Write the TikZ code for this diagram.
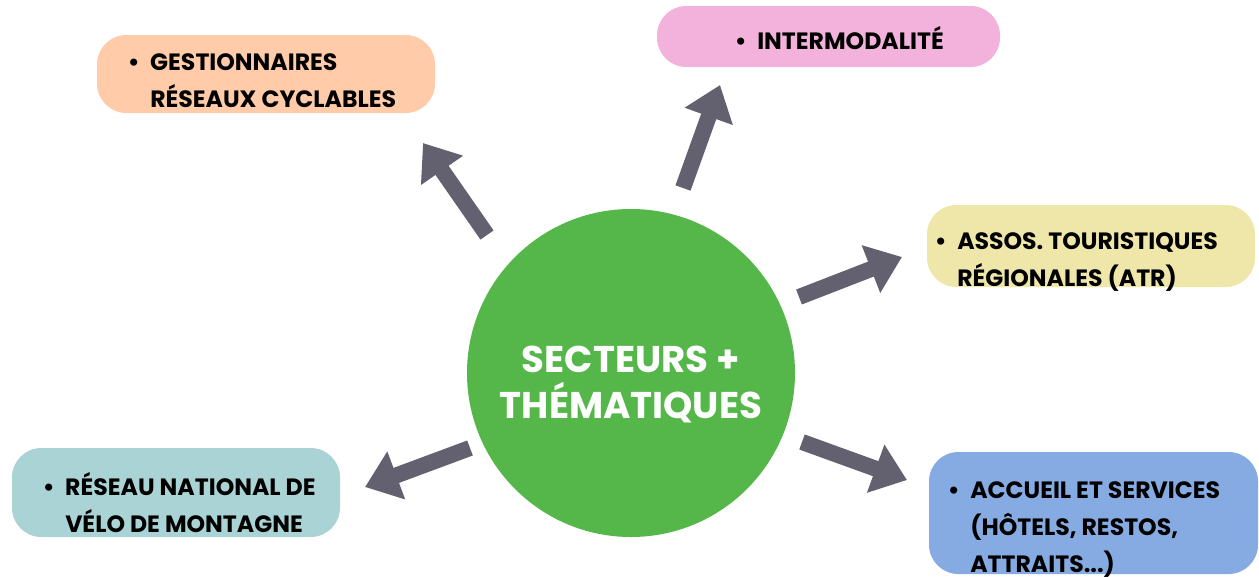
\documentclass[tikz,border=0pt]{standalone}
\usepackage{fontspec}
\setmainfont{Poppins}
\usepackage{tikz}
\usetikzlibrary{arrows.meta}
\usetikzlibrary{shapes}

\definecolor{hubgreen}{HTML}{55B74A}
\definecolor{arrowgray}{HTML}{63616F}
\definecolor{peach}{HTML}{FFCBA9}
\definecolor{pinkish}{HTML}{F3B2DC}
\definecolor{sand}{HTML}{EFE6AA}
\definecolor{teal}{HTML}{A9D3D5}
\definecolor{skyblue}{HTML}{86AAE2}
\newcommand{\itembul}{\llap{\textbullet\hspace{8pt}}}

\begin{document}
\begin{tikzpicture}[x=0.75pt,y=-0.75pt]
\tikzset{box/.style={rectangle, rounded corners=22pt, inner sep=0pt}}
\tikzset{entry/.style={anchor=base west, inner sep=0pt, align=left, font=\bfseries\fontsize{17.7}{27.5}\selectfont}}
\tikzset{fatarrow/.style={draw=arrowgray, line width=12pt, -{Triangle[width=36.75pt,length=25pt]}}}
\useasboundingbox (0,0) rectangle (1259,576);
\node[circle, fill=hubgreen, minimum size=246pt, inner sep=0pt] (hub) at (631,373) {};
\node[anchor=base, inner sep=0pt, align=center, text=white, font=\bfseries\fontsize{27.9}{34.5}\selectfont] (hub-txt) at (631,418) {SECTEURS +\\THÉMATIQUES};
\node[box, fill=peach, minimum width=253.5pt, minimum height=58.5pt] (gest) at (266,74) {};
\node[box, fill=pinkish, minimum width=257.25pt, minimum height=45.75pt] (inter) at (828.5,36.5) {};
\node[box, fill=sand, minimum width=246pt, minimum height=61.5pt] (atr) at (1091,246) {};
\node[box, fill=teal, minimum width=246pt, minimum height=66.75pt] (rnvm) at (176,492.5) {};
\node[box, fill=skyblue, minimum width=246.75pt, minimum height=91.5pt] (accueil) at (1093.5,513) {};
\node[entry] (gest-txt) at (150,107) {\itembul GESTIONNAIRES\\RÉSEAUX CYCLABLES};
\node[entry] (inter-txt) at (757,49) {\itembul INTERMODALITÉ};
\node[entry] (atr-txt) at (957,286) {\itembul ASSOS. TOURISTIQUES\\RÉGIONALES (ATR)};
\node[entry] (rnvm-txt) at (65,532) {\itembul RÉSEAU NATIONAL DE\\VÉLO DE MONTAGNE};
\node[entry] (accueil-txt) at (970,572) {\itembul ACCUEIL ET SERVICES\\(HÔTELS, RESTOS,\\ATTRAITS...)};
\coordinate (gest-from) at (487,235);
\coordinate (gest-to) at (423,143);
\coordinate (inter-from) at (683,188);
\coordinate (inter-to) at (720,85);
\coordinate (atr-from) at (799,297);
\coordinate (atr-to) at (902,257);
\coordinate (rnvm-from) at (470,448);
\coordinate (rnvm-to) at (365,487);
\coordinate (accueil-from) at (802,442);
\coordinate (accueil-to) at (907,480);
\draw[fatarrow] (gest-from) -- (gest-to);
\draw[fatarrow] (inter-from) -- (inter-to);
\draw[fatarrow] (atr-from) -- (atr-to);
\draw[fatarrow] (rnvm-from) -- (rnvm-to);
\draw[fatarrow] (accueil-from) -- (accueil-to);
\end{tikzpicture}
\end{document}
